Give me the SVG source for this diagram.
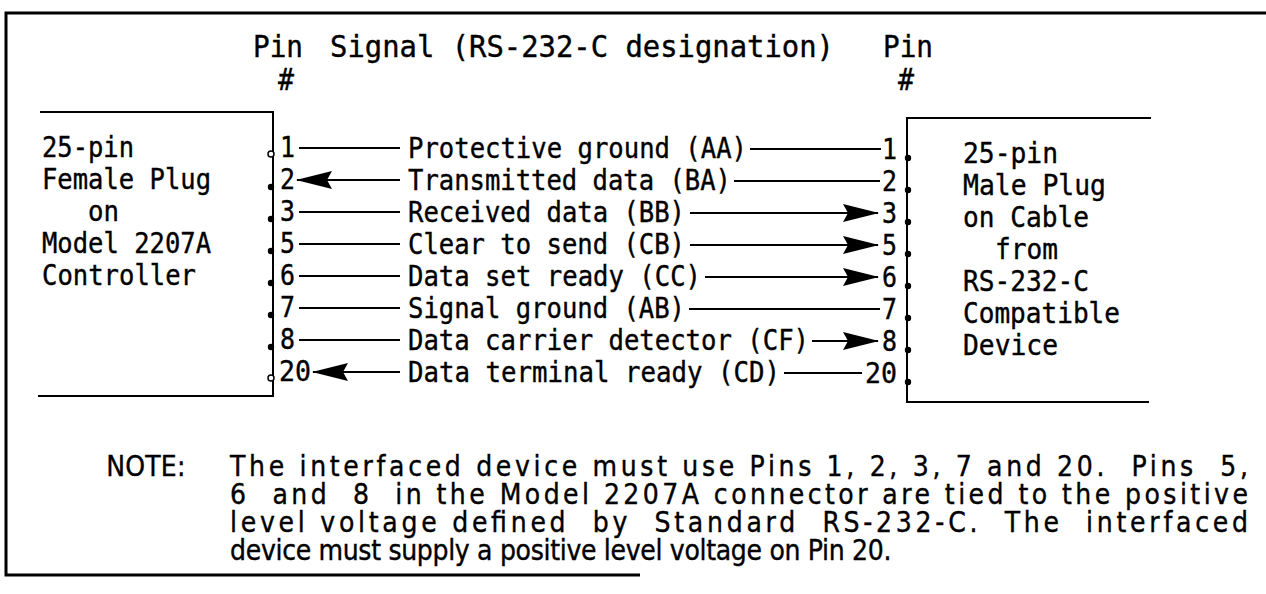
<svg xmlns="http://www.w3.org/2000/svg" width="1266" height="594" viewBox="0 0 1266 594">
<style>
  text { font-family: "DejaVu Sans Mono", "Liberation Mono", monospace; fill: #000; stroke: #000; stroke-width: 0.4; }
  .hd { font-size: 30px; }
  .t { font-size: 29px; }
  .n { font-family: "DejaVu Sans", "Liberation Sans", sans-serif; font-size: 28px; white-space: pre; }
  .ln { stroke: #000; stroke-width: 2; fill: none; }
  .fr { stroke: #000; stroke-width: 3; fill: none; }
  .dot { fill: #000; }
  .odot { fill: #fff; stroke: #000; stroke-width: 1.5; }
</style>
<defs>
  <marker id="arr" viewBox="0 0 36 18" refX="35" refY="9" markerWidth="36" markerHeight="18" markerUnits="userSpaceOnUse" orient="auto">
    <path d="M0,0 L36,9 L0,18 L5,9 Z" fill="#000"/>
  </marker>
</defs>
<rect width="1266" height="594" fill="#fff"/>

<g id="frame">
  <path class="fr" d="M1266,13 L6,13 L6,575 L640,575"/>
</g>

<g id="header">
  <text class="hd" x="253" y="57" textLength="50" lengthAdjust="spacingAndGlyphs">Pin</text>
  <text class="hd" x="278" y="90" textLength="16" lengthAdjust="spacingAndGlyphs">#</text>
  <text class="hd" x="330" y="57" textLength="504" lengthAdjust="spacingAndGlyphs">Signal (RS-232-C designation)</text>
  <text class="hd" x="883" y="57" textLength="50" lengthAdjust="spacingAndGlyphs">Pin</text>
  <text class="hd" x="898" y="90" textLength="16" lengthAdjust="spacingAndGlyphs">#</text>
</g>

<g id="female-plug">
  <path class="ln" d="M40,112 L273,112 L273,396 L38,396"/>
  <text class="t" x="42" y="157" textLength="92" lengthAdjust="spacingAndGlyphs">25-pin</text>
  <text class="t" x="42" y="189" textLength="169" lengthAdjust="spacingAndGlyphs">Female Plug</text>
  <text class="t" x="88" y="221" textLength="31" lengthAdjust="spacingAndGlyphs">on</text>
  <text class="t" x="42" y="253" textLength="169" lengthAdjust="spacingAndGlyphs">Model 2207A</text>
  <text class="t" x="42" y="285" textLength="154" lengthAdjust="spacingAndGlyphs">Controller</text>
  <circle class="odot" cx="271" cy="154" r="3"/>
  <circle class="dot" cx="271" cy="187" r="3.2"/>
  <circle class="dot" cx="271" cy="219" r="3.2"/>
  <circle class="dot" cx="271" cy="251" r="3.2"/>
  <circle class="dot" cx="271" cy="283" r="3.2"/>
  <circle class="dot" cx="271" cy="315" r="3.2"/>
  <circle class="dot" cx="271" cy="347" r="3.2"/>
  <circle class="odot" cx="271" cy="378" r="3"/>
  <text class="t" x="280" y="157" textLength="15" lengthAdjust="spacingAndGlyphs">1</text>
  <text class="t" x="280" y="189" textLength="15" lengthAdjust="spacingAndGlyphs">2</text>
  <text class="t" x="280" y="221" textLength="15" lengthAdjust="spacingAndGlyphs">3</text>
  <text class="t" x="280" y="253" textLength="15" lengthAdjust="spacingAndGlyphs">5</text>
  <text class="t" x="280" y="285" textLength="15" lengthAdjust="spacingAndGlyphs">6</text>
  <text class="t" x="280" y="317" textLength="15" lengthAdjust="spacingAndGlyphs">7</text>
  <text class="t" x="280" y="349" textLength="15" lengthAdjust="spacingAndGlyphs">8</text>
  <text class="t" x="279" y="381" textLength="32" lengthAdjust="spacingAndGlyphs">20</text>
</g>

<g id="male-plug">
  <path class="ln" d="M1151,118 L907,118 L907,402 L1149,402"/>
  <text class="t" x="963" y="163" textLength="95" lengthAdjust="spacingAndGlyphs">25-pin</text>
  <text class="t" x="963" y="195" textLength="143" lengthAdjust="spacingAndGlyphs">Male Plug</text>
  <text class="t" x="963" y="227" textLength="126" lengthAdjust="spacingAndGlyphs">on Cable</text>
  <text class="t" x="995" y="259" textLength="63" lengthAdjust="spacingAndGlyphs">from</text>
  <text class="t" x="963" y="291" textLength="126" lengthAdjust="spacingAndGlyphs">RS-232-C</text>
  <text class="t" x="963" y="323" textLength="157" lengthAdjust="spacingAndGlyphs">Compatible</text>
  <text class="t" x="963" y="355" textLength="95" lengthAdjust="spacingAndGlyphs">Device</text>
  <circle class="dot" cx="908" cy="158" r="3.2"/>
  <circle class="dot" cx="908" cy="190" r="3.2"/>
  <circle class="dot" cx="908" cy="222" r="3.2"/>
  <circle class="dot" cx="908" cy="254" r="3.2"/>
  <circle class="dot" cx="908" cy="286" r="3.2"/>
  <circle class="dot" cx="908" cy="318" r="3.2"/>
  <circle class="dot" cx="908" cy="350" r="3.2"/>
  <circle class="dot" cx="908" cy="382" r="3.2"/>
  <text class="t" x="882" y="159" textLength="15" lengthAdjust="spacingAndGlyphs">1</text>
  <text class="t" x="882" y="191" textLength="15" lengthAdjust="spacingAndGlyphs">2</text>
  <text class="t" x="882" y="223" textLength="15" lengthAdjust="spacingAndGlyphs">3</text>
  <text class="t" x="882" y="255" textLength="15" lengthAdjust="spacingAndGlyphs">5</text>
  <text class="t" x="882" y="287" textLength="15" lengthAdjust="spacingAndGlyphs">6</text>
  <text class="t" x="882" y="319" textLength="15" lengthAdjust="spacingAndGlyphs">7</text>
  <text class="t" x="882" y="351" textLength="15" lengthAdjust="spacingAndGlyphs">8</text>
  <text class="t" x="865" y="383" textLength="32" lengthAdjust="spacingAndGlyphs">20</text>
</g>

<g id="signals">
  <text class="t" x="408" y="158" textLength="339" lengthAdjust="spacingAndGlyphs">Protective ground (AA)</text>
  <text class="t" x="408" y="190" textLength="323" lengthAdjust="spacingAndGlyphs">Transmitted data (BA)</text>
  <text class="t" x="408" y="222" textLength="277" lengthAdjust="spacingAndGlyphs">Received data (BB)</text>
  <text class="t" x="408" y="254" textLength="277" lengthAdjust="spacingAndGlyphs">Clear to send (CB)</text>
  <text class="t" x="408" y="286" textLength="293" lengthAdjust="spacingAndGlyphs">Data set ready (CC)</text>
  <text class="t" x="408" y="318" textLength="277" lengthAdjust="spacingAndGlyphs">Signal ground (AB)</text>
  <text class="t" x="408" y="350" textLength="401" lengthAdjust="spacingAndGlyphs">Data carrier detector (CF)</text>
  <text class="t" x="408" y="382" textLength="372" lengthAdjust="spacingAndGlyphs">Data terminal ready (CD)</text>
</g>

<g id="connectors">
  <line class="ln" x1="299" y1="148" x2="400" y2="148"/>
  <line class="ln" x1="750" y1="149" x2="881" y2="149"/>
  <line class="ln" x1="400" y1="180" x2="297" y2="180" marker-end="url(#arr)"/>
  <line class="ln" x1="734" y1="181" x2="880" y2="181"/>
  <line class="ln" x1="299" y1="212" x2="400" y2="212"/>
  <line class="ln" x1="690" y1="213" x2="878" y2="213" marker-end="url(#arr)"/>
  <line class="ln" x1="299" y1="244" x2="400" y2="244"/>
  <line class="ln" x1="690" y1="245" x2="878" y2="245" marker-end="url(#arr)"/>
  <line class="ln" x1="299" y1="276" x2="400" y2="276"/>
  <line class="ln" x1="705" y1="277" x2="878" y2="277" marker-end="url(#arr)"/>
  <line class="ln" x1="299" y1="308" x2="400" y2="308"/>
  <line class="ln" x1="689" y1="309" x2="880" y2="309"/>
  <line class="ln" x1="299" y1="340" x2="400" y2="340"/>
  <line class="ln" x1="812" y1="341" x2="878" y2="341" marker-end="url(#arr)"/>
  <line class="ln" x1="400" y1="372" x2="313" y2="372" marker-end="url(#arr)"/>
  <line class="ln" x1="784" y1="373" x2="862" y2="373"/>
</g>

<g id="note" transform="scale(0.9,1)">
  <text class="n" x="118" y="476" textLength="88" lengthAdjust="spacing">NOTE:</text>
  <text class="n" x="255.6" y="476" textLength="1131" lengthAdjust="spacing">The interfaced device must use Pins 1, 2, 3, 7 and 20.  Pins  5,</text>
  <text class="n" x="255.6" y="504" textLength="1131" lengthAdjust="spacing">6  and  8  in the Model 2207A connector are tied to the positive</text>
  <text class="n" x="255.6" y="532" textLength="1131" lengthAdjust="spacing">level voltage defined  by  Standard  RS-232-C.  The  interfaced</text>
  <text class="n" x="255.6" y="560" textLength="735" lengthAdjust="spacing">device must supply a positive level voltage on Pin 20.</text>
</g>
</svg>
